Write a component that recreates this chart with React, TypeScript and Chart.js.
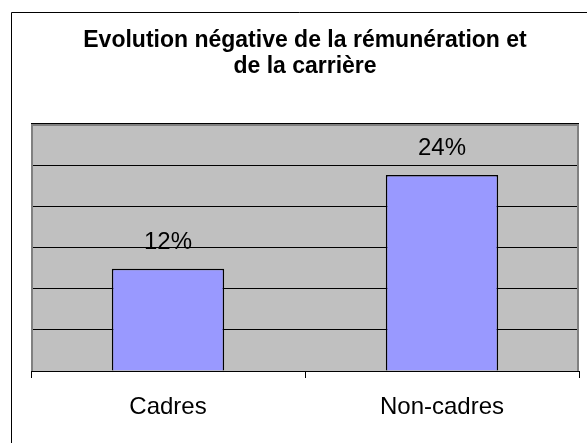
import React, { useEffect, useRef } from "react";
import { Chart, registerables } from "chart.js";

Chart.register(...registerables);

const categories = ["Cadres", "Non-cadres"];
const values = [12.4, 23.8];
const titleLines = ["Evolution négative de la rémunération et", "de la carrière"];
const yMin = 0;
const yMax = 30;
const yStep = 5;

const FONT = "'Liberation Sans', Arial, sans-serif";

const decorPlugin = {
  id: "decor",
  beforeDraw(chart: any) {
    const { ctx, chartArea, width, height } = chart;
    ctx.save();
    ctx.fillStyle = "#ffffff";
    ctx.fillRect(0, 0, width, height);
    // outer frame (left and top edges visible)
    ctx.strokeStyle = "#000000";
    ctx.lineWidth = 1;
    ctx.beginPath();
    ctx.moveTo(11.5, height + 5);
    ctx.lineTo(11.5, 12.5);
    ctx.lineTo(width + 5, 12.5);
    ctx.stroke();
    // plot area background
    ctx.fillStyle = "#C0C0C0";
    ctx.fillRect(chartArea.left, chartArea.top, chartArea.right - chartArea.left, chartArea.bottom - chartArea.top);
    ctx.restore();
  },
  afterDatasetsDraw(chart: any) {
    const { ctx, chartArea } = chart;
    ctx.save();
    ctx.strokeStyle = "#808080";
    ctx.lineWidth = 2;
    ctx.beginPath();
    ctx.moveTo(chartArea.left + 1, chartArea.bottom);
    ctx.lineTo(chartArea.left + 1, chartArea.top + 1);
    ctx.lineTo(chartArea.right - 1, chartArea.top + 1);
    ctx.lineTo(chartArea.right - 1, chartArea.bottom);
    ctx.stroke();
    // value labels
    const meta = chart.getDatasetMeta(0);
    ctx.fillStyle = "#000000";
    ctx.font = `24px ${FONT}`;
    ctx.textAlign = "center";
    ctx.textBaseline = "alphabetic";
    meta.data.forEach((bar: any, i: number) => {
      const v = chart.data.datasets[0].data[i] as number;
      ctx.fillText(`${Math.round(v)}%`, bar.x, bar.y - 20);
    });
    ctx.restore();
  },
};

export default function App() {
  const canvasRef = useRef<HTMLCanvasElement | null>(null);

  useEffect(() => {
    if (!canvasRef.current) return;
    const chart = new Chart(canvasRef.current, {
      type: "bar",
      data: {
        labels: categories,
        datasets: [
          {
            data: values,
            backgroundColor: "#9999FF",
            borderColor: "#000000",
            borderWidth: 1.5,
            categoryPercentage: 1,
            barPercentage: 0.41,
          },
        ],
      },
      options: {
        animation: false,
        responsive: false,
        events: [],
        layout: { padding: { left: 31, right: 8, top: 12, bottom: 0 } },
        plugins: {
          legend: { display: false },
          tooltip: { enabled: false },
          title: {
            display: true,
            text: titleLines,
            color: "#000000",
            font: { family: FONT, size: 23, weight: "bold", lineHeight: 1.15 },
            padding: { top: 15, bottom: 44 },
          },
        },
        scales: {
          x: {
            afterFit(scale: any) {
              scale.height = 72;
            },
            grid: {
              display: true,
              drawOnChartArea: false,
              drawTicks: true,
              tickLength: 7,
              color: "#000000",
              lineWidth: 1,
            },
            border: { display: true, color: "#000000", width: 1 },
            ticks: {
              color: "#000000",
              font: { family: FONT, size: 24 },
              padding: 15,
              maxRotation: 0,
            },
          },
          y: {
            min: yMin,
            max: yMax,
            afterFit(scale: any) {
              scale.width = 0;
            },
            ticks: { display: false, stepSize: yStep },
            grid: { color: "#000000", lineWidth: 1, drawTicks: false },
            border: { display: false },
          },
        },
      },
      plugins: [decorPlugin],
    });
    return () => chart.destroy();
  }, []);

  return (
    <div style={{ position: "fixed", left: 0, top: 0, width: 587, height: 443, background: "#fff" }}>
      <canvas ref={canvasRef} width={587} height={443} style={{ width: 587, height: 443, display: "block" }} />
    </div>
  );
}
